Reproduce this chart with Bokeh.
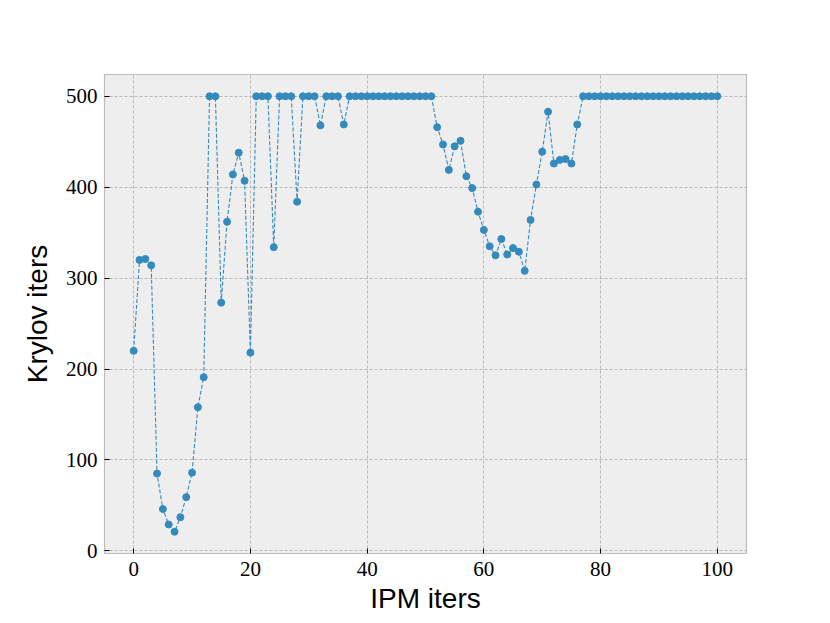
from bokeh.plotting import figure
from bokeh.models import Range1d, FixedTicker
from bokeh.embed import file_html
from bokeh.resources import INLINE

ipm_iters = list(range(101))
krylov_iters = [
    220, 320, 321, 314, 85, 46, 29, 21, 37, 59,
    86, 158, 191, 500, 500, 273, 362, 414, 438, 407,
    218, 500, 500, 500, 334, 500, 500, 500, 384, 500,
    500, 500, 468, 500, 500, 500, 469, 500, 500, 500,
    500, 500, 500, 500, 500, 500, 500, 500, 500, 500,
    500, 500, 466, 447, 419, 445, 451, 412, 399, 373,
    353, 335, 325, 343, 326, 333, 329, 308, 364, 403,
    439, 483, 426, 430, 431, 426, 469, 500, 500, 500,
    500, 500, 500, 500, 500, 500, 500, 500, 500, 500,
    500, 500, 500, 500, 500, 500, 500, 500, 500, 500,
    500,
]
x_ticks = [0, 20, 40, 60, 80, 100]
y_ticks = [0, 100, 200, 300, 400, 500]
x_label = "IPM iters"
y_label = "Krylov iters"

color = "#348ABD"

p = figure(width=828, height=620, output_backend="svg", toolbar_location=None,
           x_range=Range1d(-5, 105), y_range=Range1d(-2.95, 523.95),
           min_border_left=104, min_border_right=82, min_border_top=74, min_border_bottom=67)

p.background_fill_color = "#eeeeee"
p.border_fill_color = "white"
p.outline_line_color = "#bcbcbc"
p.outline_line_width = 1.2

p.line(ipm_iters, krylov_iters, line_color=color, line_width=1.1, line_dash="4 2")
p.scatter(ipm_iters, krylov_iters, size=7, fill_color=color, line_color=color)

for ax in (p.xaxis[0], p.yaxis[0]):
    ax.axis_line_color = None
    ax.major_tick_in = 5
    ax.major_tick_out = 0
    ax.major_tick_line_color = "black"
    ax.major_tick_line_width = 1
    ax.minor_tick_line_color = None
    ax.major_label_text_font = "Liberation Serif"
    ax.major_label_text_font_size = "21px"
    ax.major_label_text_color = "black"
    ax.axis_label_text_font = "Liberation Sans"
    ax.axis_label_text_font_size = "28px"
    ax.axis_label_text_font_style = "normal"
    ax.axis_label_text_color = "black"

p.xaxis.ticker = FixedTicker(ticks=x_ticks)
p.yaxis.ticker = FixedTicker(ticks=y_ticks)
p.xaxis.axis_label = x_label
p.yaxis.axis_label = y_label
p.xaxis.major_label_standoff = 8
p.yaxis.major_label_standoff = 7
p.xaxis.axis_label_standoff = 4
p.yaxis.axis_label_standoff = 10

for g in (p.xgrid[0], p.ygrid[0]):
    g.grid_line_color = "#aaaaaa"
    g.grid_line_dash = "3 2"
    g.grid_line_width = 0.8

open("out.html", "w").write(file_html(p, INLINE))
